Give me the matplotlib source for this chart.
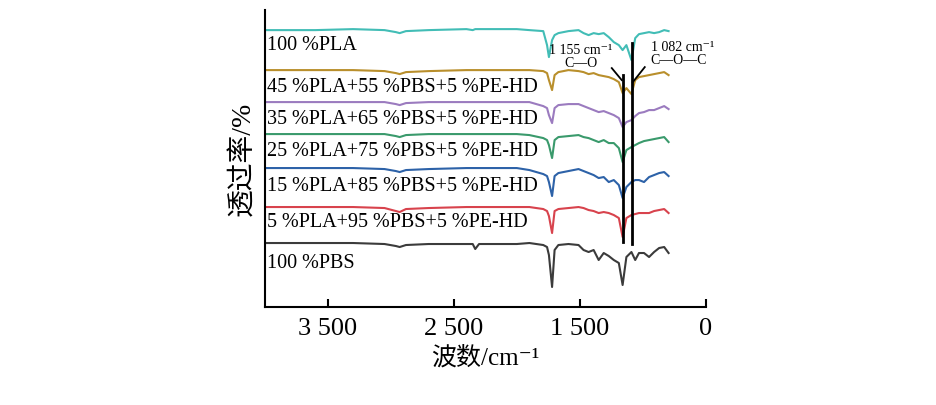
import numpy as np
import matplotlib
matplotlib.use('Agg')
import matplotlib.pyplot as plt

plt.rcParams['font.family'] = ['Liberation Serif', 'Noto Sans CJK SC', 'DejaVu Sans']

# 波数 (cm-1), 所有曲线共用
wn = [4000, 3600, 3300, 3050, 2960, 2930, 2880, 2700, 2400, 2350, 2330, 2300,
      2000, 1900, 1790, 1760, 1745, 1720, 1700, 1670, 1590, 1510, 1470, 1430,
      1390, 1350, 1310, 1270, 1230, 1190, 1160, 1130, 1090, 1060, 1030, 990,
      950, 910, 870, 830, 795]

# 曲线位置 (数值越大越靠下), 之后换成透过率
pla100 = [30, 30, 29, 30, 32, 33, 31, 30, 29, 30, 29, 29, 29, 30, 31, 45, 57, 40, 35, 33,
          31, 30, 33, 35, 33, 34, 33, 37, 42, 45, 50, 45, 60, 38, 34, 33, 32, 33, 32, 30, 31]
pla45 = [70, 70, 70, 71, 73, 74, 72, 71, 70, 70, 70, 70, 70, 70, 71, 73, 80, 90, 75, 72,
         70, 71, 72, 74, 73, 75, 76, 77, 79, 82, 93, 88, 94, 80, 77, 76, 75, 74, 73, 72, 75]
pla35 = [102, 102, 102, 102, 104, 105, 103, 102, 102, 102, 102, 102, 102, 102, 106, 108, 115, 123, 108, 105,
         104, 104, 106, 108, 110, 112, 111, 113, 115, 118, 127, 122, 120, 116, 113, 112, 110, 110, 108, 106, 109]
pla25 = [134, 134, 134, 134, 136, 137, 135, 134, 134, 134, 134, 134, 134, 135, 138, 140, 145, 158, 140, 137,
         136, 135, 137, 138, 140, 142, 140, 143, 143, 148, 162, 150, 147, 145, 143, 141, 140, 139, 138, 137, 142]
pla15 = [168, 168, 168, 169, 171, 172, 170, 169, 168, 168, 168, 168, 168, 170, 174, 176, 182, 196, 176, 173,
         171, 169, 171, 173, 175, 178, 177, 182, 180, 185, 198, 187, 182, 180, 180, 182, 177, 175, 173, 172, 176]
pla5 = [207, 207, 207, 208, 211, 212, 209, 208, 207, 207, 207, 207, 207, 207, 209, 211, 216, 233, 211, 209,
        208, 207, 208, 210, 211, 213, 212, 213, 215, 218, 237, 218, 215, 214, 213, 213, 213, 211, 210, 209, 213]
pbs100 = [243, 243, 243, 244, 246, 247, 245, 244, 244, 244, 249, 244, 244, 243, 245, 247, 255, 287, 250, 245,
          244, 245, 250, 252, 250, 260, 253, 256, 260, 263, 285, 257, 252, 260, 253, 253, 257, 252, 248, 247, 253]

spectra = [pla100, pla45, pla35, pla25, pla15, pla5, pbs100]
labels = ['100 %PLA', '45 %PLA+55 %PBS+5 %PE-HD', '35 %PLA+65 %PBS+5 %PE-HD',
          '25 %PLA+75 %PBS+5 %PE-HD', '15 %PLA+85 %PBS+5 %PE-HD',
          '5 %PLA+95 %PBS+5 %PE-HD', '100 %PBS']
label_pos = [45, 87, 119, 151, 186, 222, 263]
colors = ['#42bdb6', '#b98f2c', '#9b7bbf', '#3a9a6c', '#2d62a8', '#d8434d', '#3b3b3b']

xticks = [3500, 2500, 1500, 500]
xticklabels = ['3 500', '2 500', '1 500', '0']

fig = plt.figure(figsize=(9.36, 4.05), dpi=100)
ax = fig.add_axes([0.283, 0.242, 0.471, 0.733])

for s, c in zip(spectra, colors):
    ax.plot(wn, 310 - np.array(s), color=c, lw=1.5)

for lab, p in zip(labels, label_pos):
    ax.text(3985, 310 - p, lab, fontsize=14.5, va='center', ha='left')

# 特征峰标线
ax.plot([1155, 1155], [310 - 75, 310 - 242], color='black', lw=2)
ax.plot([1082, 1082], [310 - 43, 310 - 244], color='black', lw=2)
ax.plot([1246, 1167], [310 - 68, 310 - 80], color='black', lw=1.3)
ax.plot([984, 1079], [310 - 67, 310 - 82], color='black', lw=1.3)
ax.text(1492, 310 - 50, '1 155 cm⁻¹', fontsize=10, ha='center', va='center')
ax.text(1490, 310 - 63, 'C—O', fontsize=10, ha='center', va='center')
ax.text(683, 310 - 47, '1 082 cm⁻¹', fontsize=10, ha='center', va='center')
ax.text(714, 310 - 60, 'C—O—C', fontsize=10, ha='center', va='center')

ax.set_xlim(4000, 500)
ax.set_ylim(3, 300)
ax.set_xticks(xticks)
ax.set_xticklabels(xticklabels, fontsize=19)
ax.set_yticks([])
ax.tick_params(axis='x', direction='in', length=6, width=1.5, pad=8)
ax.spines['right'].set_color('none')
ax.spines['top'].set_color('none')
ax.spines['left'].set_linewidth(1.5)
ax.spines['bottom'].set_linewidth(1.5)
ax.set_xlabel('波数/cm⁻¹', fontsize=18, labelpad=4)
ax.set_ylabel('透过率/%', fontsize=20, labelpad=6)

fig.savefig('out.png', dpi=100)
